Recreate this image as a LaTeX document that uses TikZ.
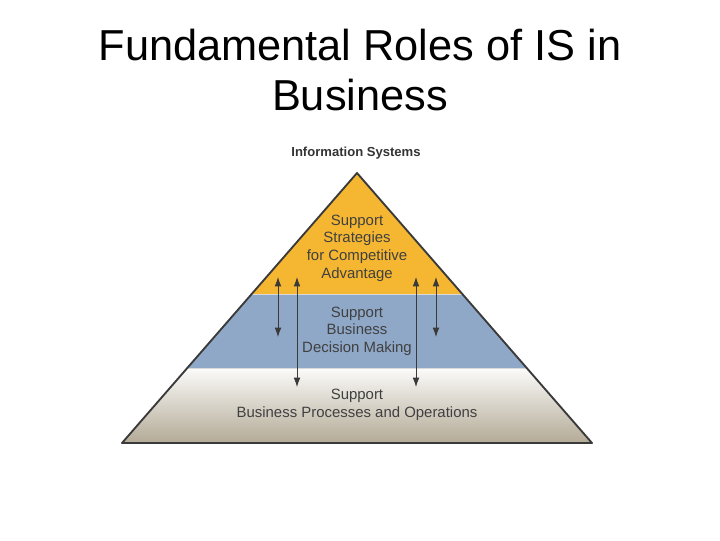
\documentclass[tikz,border=0pt]{standalone}
\usepackage{fontspec}
\setmainfont{Liberation Sans}
\usetikzlibrary{positioning,arrows.meta}
\definecolor{goldband}{HTML}{F5B731}
\definecolor{blueband}{HTML}{8FA8C8}
\definecolor{tanband}{HTML}{B3AA96}
\definecolor{edgegray}{HTML}{3A3A3A}
\tikzset{
  label text/.style={align=center,font=\fontsize{11.2pt}{13.2pt}\selectfont,text=black!75},
  updown/.style={{Latex[length=7pt,width=5pt]}-{Latex[length=7pt,width=5pt]},semithick,edgegray}
}
\begin{document}
\begin{tikzpicture}[x=0.75pt,y=-0.75pt]
  \useasboundingbox (0,0) rectangle (720,540);
  % title
  \node[font=\fontsize{32.5pt}{37pt}\selectfont,align=center] (title) at (360,70) {Fundamental Roles of IS in\\Business};
  \node[font=\bfseries\fontsize{9.8pt}{11pt}\selectfont,text=black!80] (head) at (356,153) {Information Systems};
  % bands
  \fill[goldband] (357,173) -- (462,294) -- (252,294) -- cycle;
  \fill[blueband] (252,294) -- (462,294) -- (527,368) -- (187,368) -- cycle;
  \shade[top color=white!95!tanband,bottom color=tanband] (187,368) -- (527,368) -- (592,443) -- (122,443) -- cycle;
  \draw[white!70!gray,line width=0.6pt] (252,294) -- (462,294) (187,368) -- (527,368);
  \draw[edgegray,line width=1.4pt,line join=round] (122,443) -- (357,173) -- (592,443) -- cycle;
  % texts
  \node[label text] (top) at (357,248) {Support\\Strategies\\for Competitive\\Advantage};
  \node[label text] (mid) at (357,331) {Support\\Business\\Decision Making};
  \node[label text] (bot) at (357,405) {Support\\Business Processes and Operations};
  % arrows
  \coordinate (a1) at (278,277); \coordinate (b1) at (278,337);
  \coordinate (a2) at (297,277); \coordinate (b2) at (297,387);
  \coordinate (a3) at (416,277); \coordinate (b3) at (416,387);
  \coordinate (a4) at (436,277); \coordinate (b4) at (436,337);
  \foreach \i in {1,...,4}
    \draw[updown] (a\i) -- (b\i);
\end{tikzpicture}
\end{document}
